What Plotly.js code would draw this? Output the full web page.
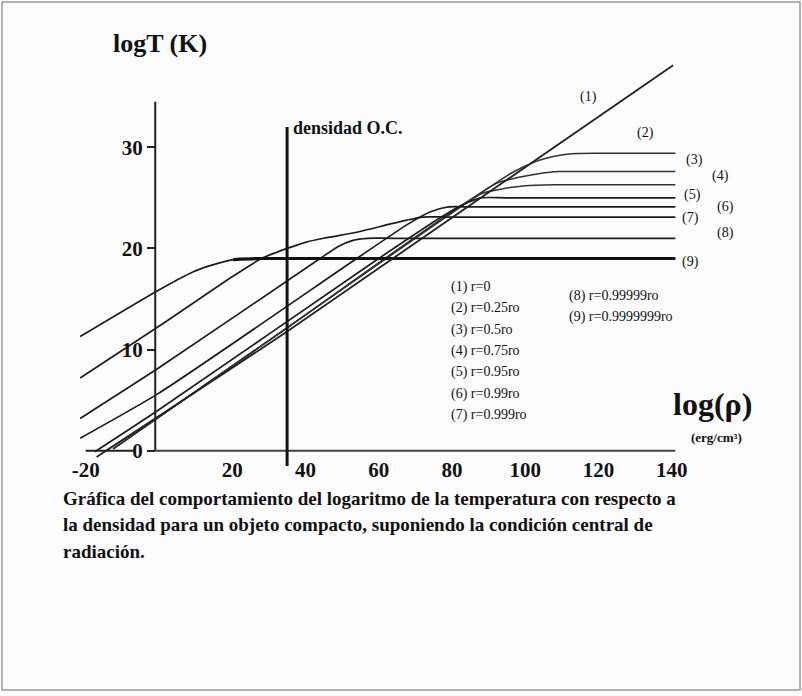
<!DOCTYPE html>
<html><head><meta charset="utf-8">
<script src="https://cdn.plot.ly/plotly-3.0.1.min.js"></script>
<style>html,body{margin:0;padding:0;background:#fcfcfc;}#chart{width:802px;height:696px;}</style>
</head><body><div id="chart"></div>
<script>
// ---- data (log rho, log T) ----
const x1 = [-17, 35, 140.4];
const y1 = [-0.6, 11.8, 38.1];
const x2 = [-12.5, 35, 96, 103, 108, 112.6, 120, 141];
const y2 = [0.2, 12.15, 27.4, 28.6, 29.1, 29.35, 29.4, 29.4];
const x3 = [-12.5, 35, 92, 98, 104, 109, 116, 141];
const y3 = [0.2, 12.15, 26.4, 27.0, 27.4, 27.6, 27.6, 27.6];
const x4 = [-12.5, 35, 88, 94, 100, 108, 141];
const y4 = [0.2, 12.15, 25.4, 25.9, 26.2, 26.3, 26.3];
const x5 = [-17.5, 0, 60, 78, 84, 88, 95, 141];
const y5 = [-0.1, 4.05, 19.0, 23.3, 24.5, 25.0, 25.0, 25.0];
const x6 = [-21.5, 0, 54, 68, 74, 79, 86, 141];
const y6 = [1.25, 5.7, 19.0, 22.4, 23.6, 24.1, 24.1, 24.1];
const x7 = [-21.5, 0, 20, 28, 32, 35, 40, 45, 54, 63, 67.7, 72, 80, 141];
const y7 = [7.2, 12.3, 17.2, 19.0, 19.6, 20.0, 20.6, 21.0, 21.6, 22.4, 22.8, 23.1, 23.1, 23.1];
const x8 = [-21.5, 0, 44, 49, 53, 57, 64, 141];
const y8 = [3.2, 8.2, 19.0, 20.2, 20.8, 21.0, 21.0, 21.0];
const x9 = [-21.5, 0, 9.4, 14, 20.3, 28, 141];
const y9 = [11.3, 15.9, 17.7, 18.3, 18.9, 19.0, 19.0];

const densityOC = 35;          // vertical line "densidad O.C."
const xTicks = [-20, 20, 40, 60, 80, 100, 120, 140];
const yTicks = [0, 10, 20, 30];
const curveLabels = ['(1)', '(2)', '(3)', '(4)', '(5)', '(6)', '(7)', '(8)', '(9)'];
const legendCol1 = ['(1) r=0', '(2) r=0.25ro', '(3) r=0.5ro', '(4) r=0.75ro', '(5) r=0.95ro', '(6) r=0.99ro', '(7) r=0.999ro'];
const legendCol2 = ['(8) r=0.99999ro', '(9) r=0.9999999ro'];
const caption = [
  'Gráfica del comportamiento del logaritmo de la temperatura con respecto a',
  'la densidad para un objeto compacto, suponiendo la condición central de',
  'radiación.'
];

// ---- layout helpers (pixel -> paper) ----
const W = 802, H = 696, L = 71, R = 123, T = 46, B = 229;
const PW = W - L - R, PH = H - T - B;
const px = v => (v - L) / PW;
const py = v => (H - B - v) / PH;

const LINE = '#1c1c1c';
const serif = '"Liberation Serif", "DejaVu Serif", serif';

function curve(x, y, w, c) {
  return {type: 'scatter', mode: 'lines', x: x, y: y, hoverinfo: 'skip',
          line: {color: c || LINE, width: w || 1.7, shape: 'spline', smoothing: 0.6}};
}
const traces = [
  curve(x2, y2, 1.5, '#333'), curve(x3, y3, 1.5, '#333'), curve(x4, y4, 1.5, '#333'),
  curve(x5, y5), curve(x6, y6), curve(x7, y7), curve(x8, y8), curve(x9, y9),
  curve(x9.slice(-3), y9.slice(-3), 3.2, '#111'),
  curve(x1, y1, 1.8, '#222')
];

const labelPos = [[588,97],[645,133],[694,160],[720,176],[692,195],[725,207],[690,218],[725,233],[690,262]];
const ann = [];
function txt(t, xp, yp, size, bold, anchor) {
  ann.push({text: t, xref: 'paper', yref: 'paper', x: px(xp), y: py(yp),
            xanchor: anchor || 'center', yanchor: 'middle', showarrow: false,
            font: {family: serif, size: size, color: '#111', weight: bold ? 'bold' : 'normal'}});
}
curveLabels.forEach((t, i) => txt(t, labelPos[i][0], labelPos[i][1], 14, false));
legendCol1.forEach((t, i) => txt(t, 449, 287 + i * 21.3, 14, false, 'left'));
legendCol2.forEach((t, i) => txt(t, 567, 296 + i * 21, 14, false, 'left'));
txt('logT (K)', 160, 44, 26, true);
txt('densidad O.C.', 291, 128, 18, true, 'left');
txt('log(ρ)', 712, 404, 32, true);
txt('(erg/cm³)', 716, 437, 13, true);
caption.forEach((t, i) => txt(t, 61, 498 + i * 26.5, 19, true, 'left'));

const shapes = [
  {type: 'line', xref: 'x', yref: 'y', x0: -1, x1: 141, y0: 0, y1: 0, line: {color: '#444', width: 2}},
  {type: 'line', xref: 'x', yref: 'y', x0: -20, x1: -6.5, y0: 0, y1: 0, line: {color: '#222', width: 2}},
  {type: 'line', xref: 'x', yref: 'y', x0: -1, x1: -1, y0: 0, y1: 34.5, line: {color: '#222', width: 2}},
  {type: 'line', xref: 'x', yref: 'y', x0: densityOC, x1: densityOC, y0: -1.5, y1: 32, line: {color: '#111', width: 3}},
  {type: 'rect', xref: 'paper', yref: 'paper', x0: px(2), x1: px(800), y0: py(2), y1: py(690), line: {color: '#999', width: 1.5}}
];

const layout = {
  width: W, height: H, margin: {l: L, r: R, t: T, b: B},
  paper_bgcolor: '#fcfcfc', plot_bgcolor: '#fcfcfc', showlegend: false,
  xaxis: {range: [-24, 142], tickvals: xTicks, ticktext: xTicks.map(String), showgrid: false, zeroline: false, showline: false,
          ticks: '', anchor: 'free', position: py(455),
          tickfont: {family: serif, size: 21, color: '#111', weight: 'bold'}},
  yaxis: {range: [-1.6, 40], tickvals: yTicks, showgrid: false, zeroline: false, showline: false,
          ticks: 'outside', ticklen: 8, tickwidth: 2, tickcolor: '#222', anchor: 'free', position: px(155),
          tickfont: {family: serif, size: 21, color: '#111', weight: 'bold'}},
  shapes: shapes, annotations: ann
};
Plotly.newPlot('chart', traces, layout, {staticPlot: true});
</script></body></html>
